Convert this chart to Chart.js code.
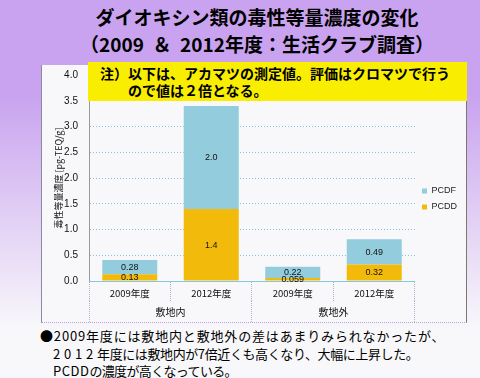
<!DOCTYPE html>
<html lang="ja">
<head>
<meta charset="utf-8">
<script src="https://cdn.jsdelivr.net/npm/chart.js@4"></script>
<style>
    html, body { margin: 0; padding: 0; }
    body {
        width: 480px; height: 378px; overflow: hidden; position: relative;
        background: linear-gradient(to bottom, #c9a3ef 0px, #c9a3ef 95px, #f8f8fa 330px);
        font-family: 'Noto Sans CJK JP', sans-serif;
    }
    .title {
        position: absolute; left: 0; width: 514px; text-align: center;
        font-weight: 700; font-size: 19px; color: #000; line-height: 27px;
        top: 3px;
    }
    .panel {
        position: absolute; left: 41px; top: 65px; width: 426px; height: 258px;
        background: #f8f8fa; border-left: 1px solid #8a8aa0; border-right: 1px solid #7a7a6a;
        border-bottom: 1px dotted #b8a0e0; box-sizing: border-box;
    }
    .panel canvas { position: absolute; left: -1px; top: 0; }
    .note {
        position: absolute; left: 88px; top: 62px; width: 379px; height: 39px;
        background: #f9ee02; font-weight: 700; font-size: 14px; line-height: 17px;
        box-sizing: border-box; padding: 3px 0 0 12px; color: #000;
    }
    .note .l2 { padding-left: 28px; }
    .memo {
        position: absolute; left: 40px; top: 327px; font-size: 13px; line-height: 17.5px; color: #000;
        white-space: nowrap;
    }
    .memo .m1 { letter-spacing: 0.83px; }
    .memo .m2 { padding-left: 13px; letter-spacing: -0.4px; }
    .memo .m2 .yr { letter-spacing: 3.8px; }
    .memo .m3 { padding-left: 13px; letter-spacing: -0.65px; }
    .memo .m3 .ab { letter-spacing: 0.5px; }
</style>
</head>
<body>
<div class="title">ダイオキシン類の毒性等量濃度の変化<br>（2009&nbsp; ＆&nbsp; 2012年度：生活クラブ調査）</div>
<div class="panel"><canvas id="dxnChart" width="426" height="258"></canvas></div>
<div class="note">注）以下は、アカマツの測定値。評価はクロマツで行う<div class="l2">ので値は２倍となる。</div></div>
<div class="memo">
    <div class="m1">●2009年度には敷地内と敷地外の差はあまりみられなかったが、</div>
    <div class="m2"><span class="yr">2012</span>年度には敷地内が7倍近くも高くなり、大幅に上昇した。</div>
    <div class="m3"><span class="ab">PCDD</span>の濃度が高くなっている。</div>
</div>

<script>
// data
const years = ['2009年度', '2012年度', '2009年度', '2012年度'];
const sites = ['敷地内', '敷地外'];
const pcdd = [0.13, 1.4, 0.059, 0.32];
const pcdf = [0.28, 2.0, 0.22, 0.49];
const yTicks = [0, 0.5, 1, 1.5, 2, 2.5, 3, 3.5, 4];

const gridBlue = '#86c6e0';
const numFont = "'Liberation Sans', Arial, sans-serif";

// values written in the middle of each stacked segment
const segmentLabels = {
    id: 'segmentLabels',
    afterDatasetsDraw(chart) {
        const ctx = chart.ctx;
        ctx.save();
        ctx.font = '9px ' + numFont;
        ctx.fillStyle = '#111';
        ctx.textAlign = 'center';
        ctx.textBaseline = 'middle';
        chart.data.datasets.forEach((ds, i) => {
            chart.getDatasetMeta(i).data.forEach((bar, j) => {
                const v = ds.data[j];
                const txt = v >= 1 ? v.toFixed(1) : String(v);
                ctx.fillText(txt, bar.x, (bar.y + bar.base) / 2 + 0.5);
            });
        });
        ctx.restore();
    }
};

Chart.defaults.font.family = "'Noto Sans CJK JP', sans-serif";
Chart.defaults.color = '#111';

new Chart(document.getElementById('dxnChart'), {
    type: 'bar',
    data: {
        labels: years,
        datasets: [
            { label: 'PCDD', data: pcdd, backgroundColor: '#f2bb0c' },
            { label: 'PCDF', data: pcdf, backgroundColor: '#93cddd' }
        ]
    },
    options: {
        responsive: false,
        animation: false,
        layout: { padding: { top: 10, right: 0, left: 0, bottom: 0 } },
        datasets: { bar: { categoryPercentage: 1, barPercentage: 0.675 } },
        plugins: {
            legend: {
                position: 'right',
                reverse: true,
                labels: { boxWidth: 5, boxHeight: 5, padding: 7, font: { size: 9, family: numFont }, color: '#222' }
            },
            tooltip: { enabled: false }
        },
        scales: {
            y: {
                stacked: true, min: 0, max: 4,
                afterBuildTicks: s => { s.ticks = yTicks.map(v => ({ value: v })); },
                afterFit: s => { s.width = 48; s.paddingTop = 0; s.paddingBottom = 0; },
                ticks: { padding: 11, font: { size: 10, family: numFont }, callback: v => v.toFixed(1) },
                grid: { color: gridBlue, drawTicks: false, lineWidth: 1 },
                border: { display: true, color: '#9a9a9a', dash: [1, 2] },
                title: { display: true, text: '毒性等量濃度 [pg-TEQ/g]', font: { size: 9 }, padding: { top: 12, bottom: 0 } }
            },
            x: {
                stacked: true,
                afterFit: s => { s.height = 20; },
                grid: { drawOnChartArea: false, tickLength: 20, color: '#a8b4c8', tickBorderDash: [1, 1] },
                border: { display: true, color: gridBlue },
                ticks: { padding: -13, font: { size: 9.5 }, maxRotation: 0 }
            },
            x2: {
                type: 'category', position: 'bottom', labels: sites, offset: true,
                afterFit: s => { s.height = 22; },
                grid: { offset: true, drawOnChartArea: false, tickLength: 22, color: '#a8b4c8', tickBorderDash: [1, 1] },
                border: { display: false },
                ticks: { padding: -17, font: { size: 10 }, maxRotation: 0 }
            }
        }
    },
    plugins: [segmentLabels]
});
</script>
</body>
</html>
